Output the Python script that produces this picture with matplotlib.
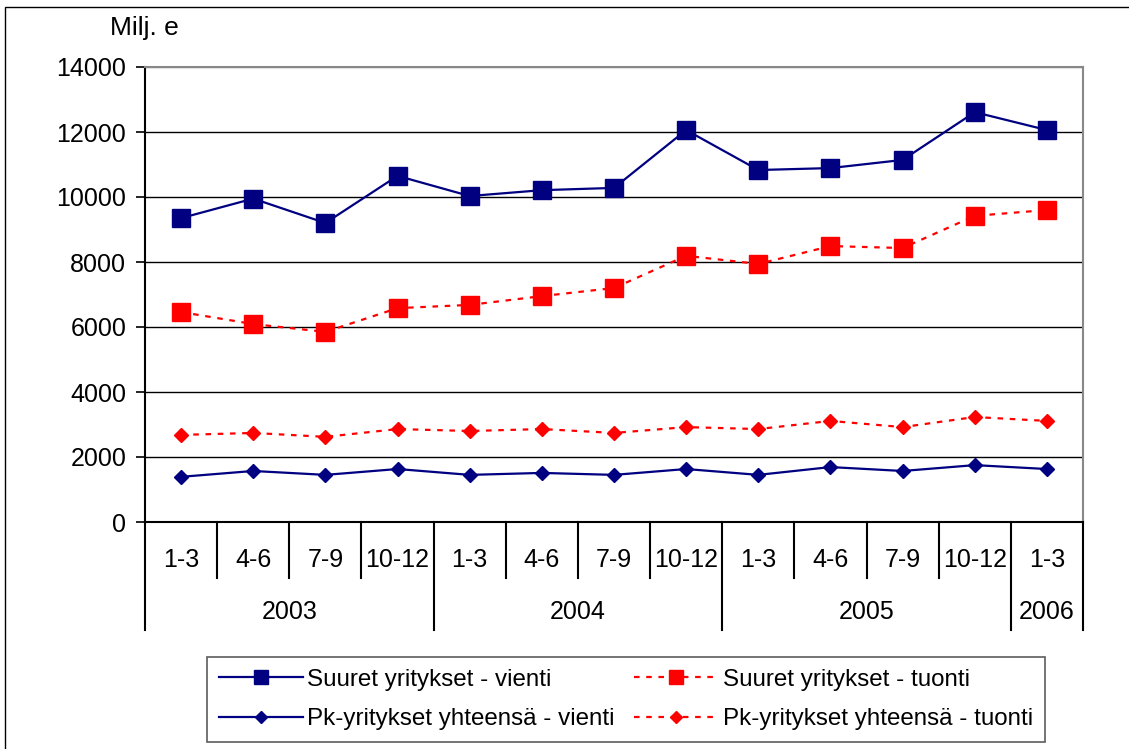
import matplotlib.pyplot as plt
import matplotlib.transforms as mtransforms
from matplotlib.patches import Rectangle

plt.rcParams['font.family'] = ['Liberation Sans', 'DejaVu Sans']

quarters = ["1-3", "4-6", "7-9", "10-12", "1-3", "4-6", "7-9", "10-12",
            "1-3", "4-6", "7-9", "10-12", "1-3"]
years = ["2003", "2004", "2005", "2006"]
year_counts = [4, 4, 4, 1]

suuret_vienti = [9350, 9950, 9200, 10650, 10030, 10210, 10280, 12060,
                 10830, 10890, 11140, 12610, 12060]
suuret_tuonti = [6460, 6090, 5850, 6580, 6680, 6950, 7200, 8190,
                 7940, 8490, 8430, 9420, 9600]
pk_vienti = [1390, 1570, 1450, 1630, 1450, 1510, 1450, 1630,
             1450, 1690, 1570, 1750, 1630]
pk_tuonti = [2680, 2740, 2620, 2860, 2800, 2860, 2740, 2920,
             2860, 3110, 2920, 3230, 3110]

navy = "#000080"
red = "#ff0000"
fs = 18

fig = plt.figure(figsize=(11.29, 7.49), dpi=100)
fig.patches.append(Rectangle((5 / 1129, -0.01), 1.1, 1 - 7 / 749 + 0.01,
                             transform=fig.transFigure, fill=False,
                             edgecolor="black", linewidth=1))
ax = fig.add_axes([145 / 1129, 1 - 522 / 749, 938 / 1129, 455 / 749])

x = list(range(len(quarters)))
l1, = ax.plot(x, suuret_vienti, color=navy, lw=1.6, marker="s", ms=13,
              label="Suuret yritykset - vienti", zorder=5)
l2, = ax.plot(x, suuret_tuonti, color=red, lw=1.6, ls=(0, (2.5, 3)), marker="s", ms=13,
              label="Suuret yritykset - tuonti", zorder=5)
l3, = ax.plot(x, pk_vienti, color=navy, lw=1.6, marker="D", ms=7.5,
              label="Pk-yritykset yhteensä - vienti", zorder=5)
l4, = ax.plot(x, pk_tuonti, color=red, lw=1.6, ls=(0, (2.5, 3)), marker="D", ms=7.5,
              label="Pk-yritykset yhteensä - tuonti", zorder=5)

ax.set_xlim(-0.5, len(quarters) - 0.5)
ax.set_ylim(0, 14000)
ax.set_yticks(range(0, 14001, 2000))
ax.tick_params(axis="y", labelsize=fs, length=6.5, width=1.2, direction="out", pad=7)
ax.set_xticks([])
for v in range(2000, 14001, 2000):
    ax.axhline(v, color="black" if v < 14000 else "#888888", lw=1, zorder=1)

for s in ["top", "right"]:
    ax.spines[s].set_color("#888888")
    ax.spines[s].set_linewidth(1.5)
ax.spines["left"].set_linewidth(1.5)
ax.spines["bottom"].set_linewidth(1.5)

# two-level category axis
trans = mtransforms.blended_transform_factory(ax.transData, ax.transAxes)
q_depth = -56 / 455
y_depth = -108 / 455
for i, q in enumerate(quarters):
    ax.text(i, -38 / 455, q, transform=trans, ha="center", va="center", fontsize=fs)
bounds = [-0.5]
for c in year_counts:
    bounds.append(bounds[-1] + c)
for b in range(len(quarters) + 1):
    edge = b - 0.5
    depth = y_depth if edge in bounds else q_depth
    ax.plot([edge, edge], [0, depth], transform=trans, color="black",
            lw=1.5, clip_on=False)
for yr, a, b in zip(years, bounds[:-1], bounds[1:]):
    ax.text((a + b) / 2, -90 / 455, yr, transform=trans, ha="center",
            va="center", fontsize=fs)

fig.text(110 / 1129, 1 - 28 / 749, "Milj. e", fontsize=19, va="center", ha="left")

leg = fig.legend([l1, l3, l2, l4], [l.get_label() for l in (l1, l3, l2, l4)],
                 loc="upper left", bbox_to_anchor=(207 / 1129, 1 - 657 / 749),
                 ncol=2, fontsize=17.4, frameon=True, fancybox=False,
                 edgecolor="#333333", handlelength=3.5, handletextpad=0.17,
                 markerscale=0.8, borderaxespad=0, columnspacing=0.8,
                 labelspacing=0.72, borderpad=0.48)
leg.get_frame().set_linewidth(1.2)

fig.savefig("out.png", dpi=100)
